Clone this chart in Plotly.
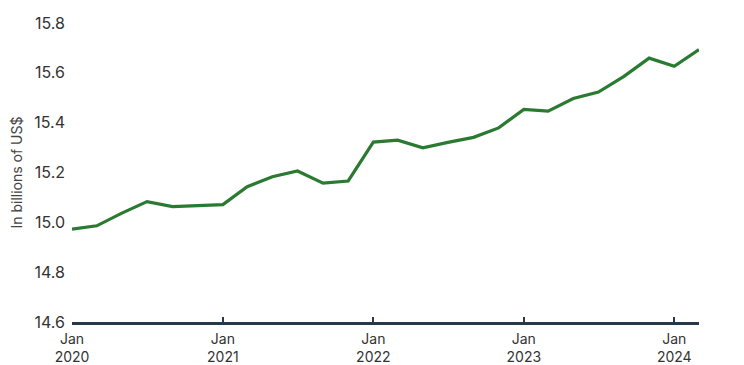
import plotly.graph_objects as go
import pandas as pd

dates = pd.date_range("2020-01-01", "2024-03-01", freq="2MS")
values = [14.973, 14.986, 15.037, 15.083, 15.063, 15.068, 15.071,
          15.143, 15.183, 15.206, 15.157, 15.166,
          15.322, 15.330, 15.299, 15.321, 15.341, 15.379,
          15.453, 15.446, 15.497, 15.523, 15.586, 15.659,
          15.626, 15.693]
y_ticks = [14.6, 14.8, 15.0, 15.2, 15.4, 15.6, 15.8]
x_ticks = ["2020-01-01", "2021-01-01", "2022-01-01", "2023-01-01", "2024-01-01"]
x_tick_labels = ["Jan<br>2020", "Jan<br>2021", "Jan<br>2022", "Jan<br>2023", "Jan<br>2024"]

fig = go.Figure()
fig.add_trace(go.Scatter(x=dates, y=values, mode="lines",
                         line=dict(color="#2a7a31", width=3.2),
                         hoverinfo="x+y"))

fig.update_layout(
    width=744, height=365,
    margin=dict(l=72, r=45, t=23, b=43),
    paper_bgcolor="white", plot_bgcolor="white",
    showlegend=False,
    font=dict(family="Inter, Open Sans, sans-serif", color="#333333", size=15),
)
fig.update_xaxes(
    range=[dates[0], dates[-1]],
    tickvals=x_ticks, ticktext=x_tick_labels,
    showgrid=False, zeroline=False, automargin=False,
    showline=True, linecolor="#26384a", linewidth=2.5,
    ticks="inside", ticklen=5, tickwidth=1.5, tickcolor="#26384a",
    ticklabelstandoff=2,
    tickfont=dict(size=14, color="#333333"),
)
fig.update_yaxes(
    range=[14.6, 15.8],
    tickvals=y_ticks, tickformat=".1f",
    showgrid=False, zeroline=False, showline=False, automargin=False,
    ticks="", ticklabelstandoff=6,
    tickfont=dict(size=16, color="#333333"),
    title=dict(text="In billions of US$", font=dict(size=14, color="#444444"), standoff=8),
)

fig.write_html("out.html",
               config={"displayModeBar": False},
               post_script="document.body.style.margin='0';document.body.style.overflow='hidden';")
